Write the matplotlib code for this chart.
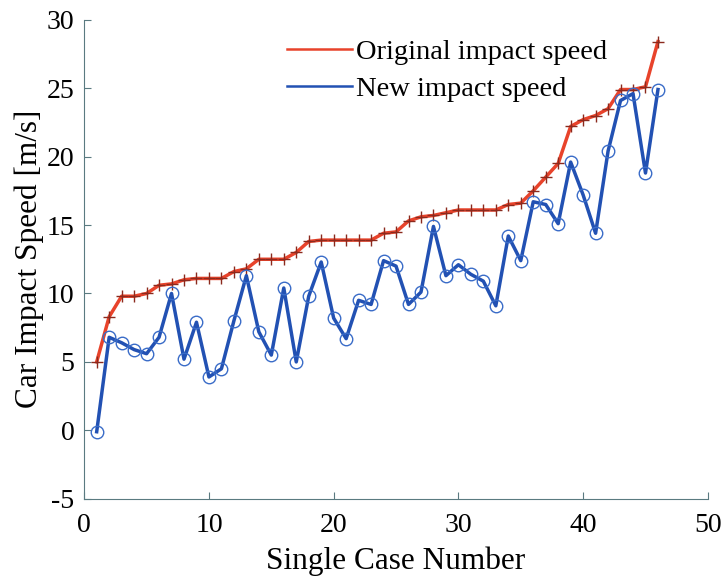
import numpy as np
import matplotlib
matplotlib.use('Agg')
import matplotlib.pyplot as plt
from matplotlib.lines import Line2D

plt.rcParams['font.family'] = ['Liberation Serif', 'DejaVu Serif']
plt.rcParams['axes.unicode_minus'] = False

case = np.arange(1, 47)
original = [5.0, 8.3, 9.8, 9.8, 10.0, 10.6, 10.7, 11.0, 11.1, 11.1,
            11.1, 11.6, 11.8, 12.5, 12.5, 12.5, 13.0, 13.8, 13.9, 13.9,
            13.9, 13.9, 13.9, 14.4, 14.5, 15.3, 15.6, 15.7, 15.9, 16.1,
            16.1, 16.1, 16.1, 16.5, 16.6, 17.5, 18.5, 19.5, 22.2, 22.7,
            23.0, 23.5, 24.9, 24.9, 25.1, 28.4]
new = [-0.1, 6.8, 6.4, 5.9, 5.6, 6.8, 10.0, 5.2, 7.9, 3.9,
       4.5, 8.0, 11.3, 7.2, 5.5, 10.4, 5.0, 9.8, 12.3, 8.2,
       6.7, 9.5, 9.2, 12.4, 12.0, 9.2, 10.1, 14.9, 11.3, 12.1,
       11.4, 10.9, 9.1, 14.2, 12.4, 16.7, 16.5, 15.1, 19.6, 17.2,
       14.4, 20.4, 24.1, 24.6, 18.8, 24.9]

red = '#E8432B'
blue = '#2251B3'

fig = plt.figure(figsize=(7.26, 5.8), dpi=100)
ax = fig.add_axes([0.116, 0.14, 0.859, 0.826])

ax.plot(case, original, color=red, lw=2.5, marker='+', ms=9,
        mec='#8B2A1E', mew=1.0)
ax.plot(case, new, color=blue, lw=2.5, marker='o', ms=9,
        mfc='none', mec='#3A6CC8', mew=1.0)

ax.set_xlim(0, 50)
ax.set_ylim(-5, 30)
ax.set_xticks(range(0, 51, 10))
ax.set_yticks(range(-5, 31, 5))
ax.tick_params(direction='in', labelsize=20, length=5, color='#5A7A80')
ax.tick_params(axis='x', pad=10)
ax.tick_params(axis='y', pad=7)
for s in ['left', 'bottom']:
    ax.spines[s].set_color('#5A7A80')
ax.spines['top'].set_visible(False)
ax.spines['right'].set_visible(False)
ax.set_xlabel('Single Case Number', fontsize=22.5, labelpad=6)
ax.set_ylabel('Car Impact Speed [m/s]', fontsize=22.5, labelpad=2)

handles = [Line2D([], [], color=red, lw=1.8),
           Line2D([], [], color=blue, lw=1.8)]
ax.legend(handles, ['Original impact speed', 'New impact speed'],
          loc='upper left', bbox_to_anchor=(0.297, 0.995), frameon=False,
          fontsize=20.5, handlelength=2.3, handletextpad=0.15,
          labelspacing=0.38, borderaxespad=0.2)

fig.savefig('out.png', dpi=100)
